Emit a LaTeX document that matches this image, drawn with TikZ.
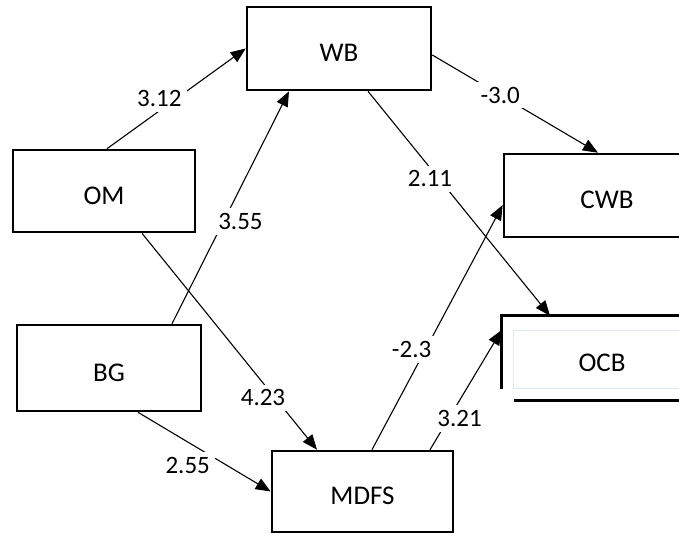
\documentclass[tikz,border=0pt]{standalone}
\usepackage{fontspec}
\setmainfont{Carlito}
\usepackage{xcolor}
\definecolor{frame-blue}{HTML}{DCE8F5}
\usepackage{tikz}
\usetikzlibrary{
  arrows.meta,
  positioning
}

\begin{document}
\begin{tikzpicture}[
    x=1pt, y=-1pt,
    box/.style={
      rectangle,
      draw=black,
      line width=2.6pt,
      inner sep=0pt,
      text height=26pt,
      text depth=0pt,
      font=\fontsize{27}{30}\selectfont
    },
    coef/.style={
      fill=white,
      inner sep=5pt,
      font=\fontsize{25}{28}\selectfont
    },
    arrow/.style={
      -{Triangle[length=15pt,width=12pt]},
      line width=1.1pt
    }
  ]
    \useasboundingbox (0,0) rectangle (679,533);

    % Boxes
    \node[box, minimum width=184pt, minimum height=83pt] (wb)   at (339,48.5)  {WB};
    \node[box, minimum width=182pt, minimum height=82pt] (om)   at (104,191)   {OM};
    \node[box, minimum width=184pt, minimum height=86pt] (bg)   at (109,368)   {BG};
    \node[box, minimum width=206pt, minimum height=83pt] (cwb)  at (607,195.5) {CWB};
    \node[box, minimum width=181pt, minimum height=81pt] (mdfs) at (362.5,491.5) {MDFS};
    \node[box, draw=none, minimum width=198pt, minimum height=82pt] (ocb) at (602,358) {OCB};

    % Broken frame round OCB
    \draw[frame-blue, line width=1.2pt]
      ([xshift=12pt, yshift=-15pt]ocb.north west) rectangle ([yshift=12pt]ocb.south east);
    \draw[line width=2.6pt] (ocb.north east) -- (ocb.north west) -- ([yshift=11pt]ocb.south west);
    \draw[line width=2.6pt] ([xshift=12pt]ocb.south west) -- (ocb.south east);

    % Paths with coefficients
    \draw[arrow] ([xshift=3pt]om.north) -- (wb.west)
      node[coef, pos=0.5, xshift=-17pt] {3.12};
    \draw[arrow] ([xshift=63pt]bg.north) -- ([xshift=-50pt]wb.south)
      node[coef, pos=0.44, xshift=17pt] {3.55};
    \draw[arrow] ([xshift=38pt]om.south) -- ([xshift=-45.5pt]mdfs.north)
      node[coef, pos=0.76, xshift=-12pt] {4.23};
    \draw[arrow] ([xshift=29pt]bg.south) -- (mdfs.west)
      node[coef, pos=0.42, xshift=-6pt, yshift=-20pt] {2.55};
    \draw[arrow] ([xshift=9.5pt]mdfs.north) -- ([yshift=-9.5pt]cwb.west)
      node[coef, pos=0.41, xshift=-14pt] {-2.3};
    \draw[arrow] ([xshift=29pt]wb.south) -- ([xshift=-52pt]ocb.north)
      node[coef, pos=0.39, xshift=-9pt] {2.11};
    \draw[arrow] ([yshift=-6.5pt]wb.east) -- ([xshift=-9pt]cwb.north)
      node[coef, pos=0.41] {-3.0};
    \draw[arrow] ([xshift=67.5pt]mdfs.north) -- ([yshift=28pt]ocb.west)
      node[coef, pos=0.26, xshift=11pt] {3.21};
  \end{tikzpicture}
\end{document}
